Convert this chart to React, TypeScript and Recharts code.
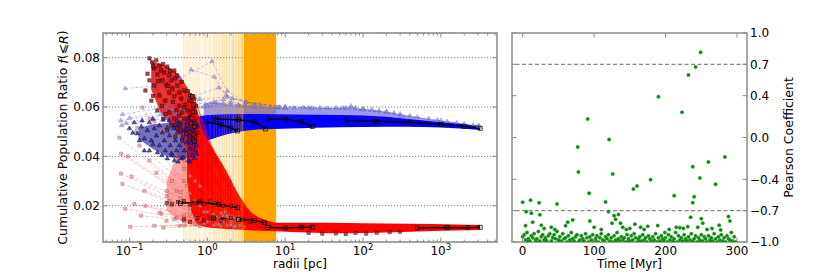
import React from 'react';
import { ComposedChart, Line, Area, Scatter, XAxis, YAxis, CartesianGrid, ReferenceLine, ReferenceArea } from 'recharts';

type Pt = [number, number];

const FONT = "'DejaVu Sans', sans-serif";
const SPINE = '#8c8c8c';
const FS = 12;

// ================= Left panel: cumulative population ratio vs radius =================
const radiusDomain: [number, number] = [0.0456, 5270];
const ratioDomain: [number, number] = [0.0053, 0.09];
const radiusMajorTicks = [0.1, 1, 10, 100, 1000];
const radiusMinorTicks = [0.05, 0.06, 0.07, 0.08, 0.09, 0.2, 0.3, 0.4, 0.5, 0.6, 0.7, 0.8, 0.9, 2, 3, 4, 5, 6, 7, 8, 9, 20, 30, 40, 50, 60, 70, 80, 90, 200, 300, 400, 500, 600, 700, 800, 900, 2000, 3000, 4000, 5000];
const ratioTicks = [0.02, 0.04, 0.06, 0.08];

// orange vertical markers (radii) and their strength
const orangeFaintRadii = [0.496, 0.542, 0.6, 0.661, 0.716, 0.789, 0.942, 1.083, 1.23, 1.32, 1.43, 1.55, 1.65, 1.77, 1.92, 2.08, 2.18, 2.34, 2.53, 2.71, 2.84];
const orangeFaintWeight = [0.14, 0.12, 0.14, 0.12, 0.14, 0.12, 0.16, 0.18, 0.2, 0.2, 0.24, 0.24, 0.28, 0.28, 0.32, 0.32, 0.36, 0.38, 0.42, 0.46, 0.5];
const orangeTint: Pt = [0.48, 2.95];
const orangeSolid: Pt = [2.95, 7.65];

// pale red tracks starting at small radii
const redFanTracks: Pt[][] = [
  [[0.074, 0.0476], [0.35, 0.03], [1.4, 0.015]],
  [[0.078, 0.0411], [0.4, 0.026], [1.2, 0.0165]],
  [[0.078, 0.033], [0.3, 0.024], [1.0, 0.0175]],
  [[0.081, 0.0289], [0.35, 0.021], [1.1, 0.014]],
  [[0.088, 0.0188], [0.4, 0.015], [1.3, 0.0125]],
  [[0.102, 0.0115], [0.5, 0.012], [1.5, 0.0118]],
  [[0.106, 0.0318], [0.45, 0.023], [1.6, 0.016]],
  [[0.146, 0.0598], [0.5, 0.035], [1.8, 0.0155]],
  [[0.185, 0.0553], [0.6, 0.032], [2.0, 0.014]],
  [[0.126, 0.0517], [0.5, 0.03], [1.7, 0.0175]],
  [[0.115, 0.0208], [0.5, 0.016], [1.4, 0.013]],
  [[0.272, 0.0111], [0.8, 0.0118], [2.2, 0.0115]],
  [[0.256, 0.0168], [0.7, 0.015], [2.0, 0.0128]],
  [[0.208, 0.0545], [0.7, 0.03], [2.2, 0.015]],
  [[0.256, 0.0505], [0.8, 0.028], [2.4, 0.0145]],
  [[0.221, 0.0334], [0.7, 0.022], [1.9, 0.015]],
  [[0.242, 0.0172], [0.8, 0.0145], [2.0, 0.0122]],
  [[0.297, 0.0139], [0.9, 0.0128], [2.3, 0.0118]],
  [[0.155, 0.0261], [0.6, 0.019], [1.6, 0.0135]],
  [[0.18, 0.0383], [0.6, 0.025], [1.8, 0.016]],
  [[0.134, 0.0444], [0.55, 0.028], [1.5, 0.017]],
  [[0.325, 0.022], [0.9, 0.0175], [2.4, 0.014]],
  [[0.377, 0.0147], [1.0, 0.0135], [2.6, 0.012]],
  [[0.437, 0.0119], [1.2, 0.012], [3.0, 0.0115]],
  [[0.506, 0.0383], [1.1, 0.022], [2.5, 0.015]],
  [[0.208, 0.0119], [0.7, 0.0125], [1.8, 0.012]],
  [[0.16, 0.02], [0.6, 0.0165], [1.5, 0.014]],
  [[0.3, 0.026], [0.8, 0.02], [2.0, 0.0155]],
  [[0.095, 0.04], [0.45, 0.0255], [1.3, 0.0155]],
  [[0.14, 0.016], [0.5, 0.014], [1.4, 0.0122]],
];

// dense red tracks falling from the high cluster
const redWedgeTracks: Pt[][] = [
  [[0.18, 0.0797], [0.7, 0.055], [2.4, 0.016]],
  [[0.242, 0.0768], [0.8, 0.05], [2.8, 0.015]],
  [[0.306, 0.0764], [0.9, 0.048], [3.0, 0.014]],
  [[0.377, 0.0748], [1.0, 0.045], [3.4, 0.0135]],
  [[0.506, 0.0667], [1.1, 0.04], [3.8, 0.013]],
  [[0.622, 0.0643], [1.3, 0.038], [4.2, 0.0128]],
  [[0.681, 0.0634], [1.5, 0.034], [4.6, 0.0125]],
  [[0.228, 0.0732], [0.75, 0.045], [2.2, 0.017]],
  [[0.297, 0.0691], [0.8, 0.042], [2.0, 0.018]],
  [[0.437, 0.0659], [0.9, 0.04], [2.6, 0.016]],
  [[0.553, 0.0586], [1.0, 0.035], [3.2, 0.0145]],
  [[0.722, 0.0521], [1.2, 0.03], [3.6, 0.0135]],
  [[0.412, 0.0513], [0.85, 0.03], [2.3, 0.016]],
  [[0.537, 0.0492], [1.0, 0.028], [2.8, 0.014]],
  [[0.325, 0.0578], [0.8, 0.034], [2.1, 0.0165]],
  [[0.208, 0.0687], [0.7, 0.04], [1.9, 0.0175]],
];

// pale blue tracks
const blueFanTracks: Pt[][] = [
  [[0.088, 0.0675], [0.2, 0.0685], [0.44, 0.0715], [1.15, 0.0785], [1.8, 0.0665], [3.1, 0.062], [8.4, 0.06], [60, 0.0598], [300, 0.0565], [3000, 0.0522]],
  [[0.617, 0.0751], [1.23, 0.0722], [1.74, 0.0647], [3.14, 0.062], [10, 0.06], [100, 0.059], [1000, 0.0545], [3100, 0.052]],
  [[0.081, 0.057], [0.3, 0.06], [0.6, 0.064], [1.4, 0.0678], [2.1, 0.0634], [4.66, 0.061], [20, 0.0598], [200, 0.058]],
  [[0.077, 0.0545], [0.25, 0.057], [0.7, 0.061], [1.6, 0.063], [3.0, 0.0605], [10, 0.0595]],
  [[0.079, 0.0525], [0.3, 0.0555], [0.9, 0.06], [2.5, 0.061], [8, 0.0598]],
  [[0.09, 0.0535], [0.4, 0.0575], [1.2, 0.062], [4, 0.06]],
  [[0.12, 0.05], [0.5, 0.0585], [1.0, 0.0605], [2.0, 0.062]],
  [[0.1, 0.0556], [0.35, 0.059], [0.8, 0.0632], [1.8, 0.064], [4, 0.061]],
];

// black reference tracks
const blackTracks: Pt[][] = [
  [[0.95, 0.054], [1.5, 0.0528], [2.0, 0.0515], [2.43, 0.0503]],
  [[1.3, 0.055], [2.5, 0.0548], [4.0, 0.054], [5.56, 0.0511]],
  [[6.0, 0.0552], [10, 0.055], [16, 0.054], [22.3, 0.0521]],
  [[60, 0.0545], [150, 0.0542], [400, 0.0538], [1000, 0.053], [2000, 0.0522], [3200, 0.0514]],
  [[0.45, 0.021], [0.8, 0.0215], [1.4, 0.0205], [2.43, 0.0192]],
  [[1.2, 0.015], [2.5, 0.0145], [4.0, 0.014], [5.4, 0.0131]],
  [[6.0, 0.0112], [10, 0.011], [16, 0.0113], [22.3, 0.0113]],
  [[500, 0.011], [1200, 0.0112], [2200, 0.0111], [3200, 0.0113]],
];

// filled envelopes
const redHazeR = [0.3, 0.4, 0.5, 0.6, 0.7, 0.8];
const redHazeLo = [0.018, 0.015, 0.013, 0.0125, 0.012, 0.0115];
const redHazeHi = [0.03, 0.04, 0.05, 0.058, 0.06, 0.055];

const redCoreR = [0.55, 0.62, 0.7, 0.79, 0.95, 1.16, 1.45, 1.75, 2.05, 2.36, 2.75, 3.17, 3.8, 4.66, 6.0, 7.7, 12, 20, 35, 60, 100, 200, 400, 800, 1500, 3200];
const redCoreLo = [0.03, 0.018, 0.0135, 0.012, 0.0114, 0.011, 0.0108, 0.0106, 0.0105, 0.0104, 0.0103, 0.0102, 0.01, 0.0099, 0.0098, 0.0097, 0.0094, 0.0091, 0.0088, 0.0088, 0.0089, 0.0092, 0.0095, 0.0098, 0.01, 0.0102];
const redCoreHi = [0.06, 0.064, 0.061, 0.054, 0.048, 0.0435, 0.0385, 0.0342, 0.03, 0.0261, 0.0222, 0.0192, 0.0168, 0.0151, 0.0138, 0.0131, 0.0131, 0.0131, 0.0131, 0.013, 0.0129, 0.0128, 0.0127, 0.0126, 0.0124, 0.0122];

const blueBandR = [0.62, 0.75, 0.9, 1.1, 1.4, 1.8, 2.4, 3.2, 4.5, 7, 12, 25, 50, 100, 200, 350, 600, 1000, 2000, 3200];
const blueBandLo = [0.044, 0.0448, 0.0458, 0.0468, 0.048, 0.049, 0.0498, 0.0505, 0.0509, 0.0511, 0.0513, 0.0516, 0.0518, 0.0519, 0.052, 0.052, 0.0519, 0.0517, 0.0512, 0.0507];
const blueBandHi = [0.0555, 0.0562, 0.0566, 0.0568, 0.057, 0.0571, 0.0572, 0.0572, 0.0572, 0.0571, 0.057, 0.0569, 0.0568, 0.0566, 0.0561, 0.0552, 0.0545, 0.0538, 0.053, 0.0524];

const blueUpperR = [0.9, 1.2, 1.6, 2.2, 3.2, 5, 8, 15, 30, 55, 70, 85, 130, 220, 350, 600, 1000, 2000];
const blueUpperLo = [0.056, 0.0562, 0.0564, 0.0565, 0.0566, 0.0566, 0.0566, 0.0565, 0.0564, 0.0563, 0.0563, 0.0562, 0.0559, 0.0553, 0.0545, 0.0538, 0.0532, 0.0525];
const blueUpperHi = [0.0615, 0.062, 0.0614, 0.0608, 0.0604, 0.0601, 0.0599, 0.0597, 0.0596, 0.0596, 0.0603, 0.0595, 0.059, 0.058, 0.0568, 0.0555, 0.0545, 0.0532];

const blueClusterR = [0.13, 0.2, 0.3, 0.45, 0.6, 0.72];
const blueClusterLo = [0.047, 0.043, 0.04, 0.039, 0.0395, 0.041];
const blueClusterHi = [0.0515, 0.053, 0.0535, 0.054, 0.0545, 0.055];

const redClusterR = [0.19, 0.25, 0.35, 0.45, 0.55, 0.65, 0.72];
const redClusterLo = [0.067, 0.058, 0.052, 0.049, 0.047, 0.046, 0.048];
const redClusterHi = [0.0785, 0.0775, 0.0755, 0.0725, 0.068, 0.064, 0.059];

// markers
const redClusterPts: Pt[] = [
  [0.18, 0.0797], [0.196, 0.0781], [0.221, 0.0789], [0.242, 0.0768], [0.208, 0.0756], [0.256, 0.0748], [0.228, 0.0732], [0.28, 0.074],
  [0.306, 0.0764], [0.325, 0.0728], [0.264, 0.0708], [0.297, 0.0691], [0.344, 0.0708], [0.377, 0.0748], [0.388, 0.0716], [0.355, 0.0675],
  [0.412, 0.0687], [0.437, 0.0659], [0.325, 0.0659], [0.377, 0.0643], [0.463, 0.0634], [0.506, 0.0667], [0.521, 0.061], [0.437, 0.0606],
  [0.4, 0.0586], [0.477, 0.0578], [0.553, 0.0586], [0.587, 0.0626], [0.622, 0.0643], [0.681, 0.0634], [0.661, 0.0602], [0.604, 0.0561],
  [0.701, 0.0578], [0.681, 0.0545], [0.722, 0.0521], [0.641, 0.0505], [0.553, 0.0529], [0.506, 0.0553], [0.45, 0.0537], [0.412, 0.0513],
  [0.537, 0.0492], [0.477, 0.0464], [0.377, 0.0553], [0.325, 0.0578], [0.344, 0.0525], [0.288, 0.0626], [0.242, 0.0647], [0.208, 0.0687],
  [0.18, 0.0708], [0.16, 0.0667], [0.191, 0.0626], [0.228, 0.0586], [0.272, 0.0553], [0.306, 0.0505], [0.388, 0.048], [0.587, 0.0464],
  [0.661, 0.0472], [0.744, 0.0496], [0.701, 0.048],
  [0.2, 0.0765], [0.27, 0.0775], [0.33, 0.0745], [0.41, 0.0728], [0.47, 0.0702], [0.56, 0.0665], [0.6, 0.0648], [0.17, 0.0735],
  [0.235, 0.0705], [0.31, 0.0685], [0.36, 0.062], [0.43, 0.0565], [0.5, 0.0598], [0.58, 0.0512], [0.26, 0.0605], [0.2, 0.0645],
  [0.45, 0.0505], [0.62, 0.0535], [0.72, 0.0605], [0.29, 0.0572],
];
const redEdgedPts: Pt[] = [[0.641, 0.0643], [0.661, 0.061], [0.65, 0.058], [0.67, 0.055], [0.68, 0.052], [0.66, 0.049], [0.69, 0.046], [0.63, 0.0555]];
const redRowPts: Pt[] = [
  [0.3, 0.021], [0.35, 0.0205], [0.42, 0.0215], [0.5, 0.022], [0.6, 0.0205], [0.7, 0.0212], [0.9, 0.0208], [1.1, 0.0218], [1.3, 0.021], [1.6, 0.02], [2.0, 0.0198],
  [0.5, 0.0145], [0.6, 0.0135], [0.75, 0.015], [0.9, 0.014], [1.1, 0.0148], [1.5, 0.0138], [2.0, 0.015], [2.8, 0.0142], [3.5, 0.0136],
  [20, 0.009], [30, 0.0087], [45, 0.0088], [60, 0.0085], [80, 0.009], [110, 0.0087], [150, 0.0091], [220, 0.0093], [300, 0.0095],
];
const blueClusterPts: Pt[] = [
  [0.0995, 0.0513], [0.115, 0.0537], [0.126, 0.0492], [0.142, 0.0521], [0.155, 0.0472], [0.169, 0.0505], [0.18, 0.0537], [0.191, 0.0464],
  [0.208, 0.0513], [0.221, 0.0484], [0.242, 0.0525], [0.242, 0.0444], [0.264, 0.0496], [0.28, 0.0464], [0.288, 0.0423], [0.306, 0.0517],
  [0.325, 0.0484], [0.334, 0.0444], [0.355, 0.0403], [0.366, 0.0513], [0.388, 0.0464], [0.4, 0.0423], [0.412, 0.0496], [0.437, 0.0525],
  [0.437, 0.0444], [0.463, 0.0391], [0.477, 0.0476], [0.506, 0.0505], [0.506, 0.0423], [0.537, 0.0456], [0.553, 0.0537], [0.57, 0.0383],
  [0.587, 0.0484], [0.604, 0.0431], [0.622, 0.0513], [0.641, 0.0403], [0.661, 0.0464], [0.681, 0.0496], [0.701, 0.0423], [0.722, 0.0444],
  [0.744, 0.0525], [0.377, 0.0383], [0.306, 0.0391], [0.228, 0.0415], [0.18, 0.0423], [0.134, 0.0464], [0.155, 0.0423], [0.553, 0.0553],
  [0.412, 0.0545], [0.325, 0.0545],
  [0.11, 0.0495], [0.145, 0.0545], [0.2, 0.0552], [0.27, 0.0548], [0.345, 0.0412], [0.42, 0.0378], [0.49, 0.0395], [0.6, 0.0377],
  [0.68, 0.0392], [0.73, 0.041], [0.26, 0.0404], [0.2, 0.0448], [0.53, 0.051], [0.62, 0.0455], [0.7, 0.0535], [0.39, 0.0528],
];
const blueUpperPts: Pt[] = [
  [1.3, 0.062], [1.6, 0.0615], [2, 0.061], [2.5, 0.0605], [3, 0.0608], [4, 0.0603], [5, 0.0601], [6.5, 0.06], [8, 0.0598], [10, 0.0599],
  [13, 0.0597], [17, 0.0598], [22, 0.0596], [28, 0.0597], [35, 0.0595], [45, 0.0597], [55, 0.0596], [70, 0.0605], [80, 0.0598], [100, 0.0592],
  [130, 0.059], [160, 0.0586], [200, 0.0582], [250, 0.0577], [300, 0.0572], [400, 0.0565], [500, 0.056], [700, 0.0553], [900, 0.0548],
  [1200, 0.0542], [1600, 0.0537], [2000, 0.0533], [2600, 0.0528], [3100, 0.0524],
];

// ================= Right panel: Pearson coefficient vs time =================
const timeDomain: [number, number] = [-14.95, 313.95];
const timeTicks = [0, 100, 200, 300];
const pearsonTicks = [-1, -0.7, -0.4, 0, 0.4, 0.7, 1];
const pearsonThresholds = [0.7, -0.7];
// low-correlation snapshots, one every 2 Myr
const pearsonBaseTimes = [
  0, 2, 4, 6, 8, 10, 12, 14, 16, 18, 20, 22, 24, 26, 28, 30, 32, 34, 36, 38, 40, 42, 44, 46, 48, 50, 52, 54, 56, 58,
  60, 62, 64, 66, 68, 70, 72, 74, 76, 78, 80, 82, 84, 86, 88, 90, 92, 94, 96, 98, 100, 102, 104, 106, 108, 110, 112, 114, 116, 118,
  120, 122, 124, 126, 128, 130, 132, 134, 136, 138, 140, 142, 144, 146, 148, 150, 152, 154, 156, 158, 160, 162, 164, 166, 168, 170, 172, 174, 176, 178,
  180, 182, 184, 186, 188, 190, 192, 194, 196, 198, 200, 202, 204, 206, 208, 210, 212, 214, 216, 218, 220, 222, 224, 226, 228, 230, 232, 234, 236, 238,
  240, 242, 244, 246, 248, 250, 252, 254, 256, 258, 260, 262, 264, 266, 268, 270, 272, 274, 276, 278, 280, 282, 284, 286, 288, 290, 292, 294, 296, 298,
];
const pearsonBase = [
  -0.95, -0.93, -0.98, -0.91, -0.97, -0.99, -0.94, -0.96, -0.92, -0.98,
  -0.97, -0.9, -0.99, -0.95, -0.93, -0.98, -0.96, -1.0, -0.94, -0.92,
  -0.99, -0.96, -0.93, -0.97, -0.9, -0.98, -0.95, -0.99, -0.92, -0.97,
  -0.96, -1.0, -0.94, -0.98, -0.91, -0.97, -0.99, -0.95, -0.93, -1.0,
  -0.98, -0.94, -0.97, -0.99, -0.92, -0.96, -1.0, -0.95, -0.98, -0.93,
  -0.99, -0.97, -0.94, -1.0, -0.96, -0.92, -0.98, -0.99, -0.95, -0.97,
  -0.93, -0.99, -0.96, -1.0, -0.94, -0.98, -0.91, -0.97, -0.99, -0.95,
  -0.98, -0.96, -1.0, -0.93, -0.97, -0.99, -0.94, -0.98, -0.92, -0.96,
  -1.0, -0.97, -0.95, -0.99, -0.93, -0.98, -0.96, -1.0, -0.94, -0.97,
  -0.99, -0.95, -0.98, -0.92, -1.0, -0.96, -0.99, -0.94, -0.97, -0.98,
  -0.96, -1.0, -0.93, -0.98, -0.95, -0.99, -0.97, -0.91, -1.0, -0.94,
  -0.98, -0.96, -0.99, -0.93, -0.97, -1.0, -0.95, -0.98, -0.92, -0.99,
  -0.97, -0.94, -1.0, -0.96, -0.98, -0.93, -0.99, -0.95, -0.97, -1.0,
  -0.94, -0.98, -0.96, -0.99, -0.92, -0.97, -1.0, -0.95, -0.98, -0.93,
  -0.99, -0.96, -1.0, -0.94, -0.97, -0.98, -0.91, -0.99, -0.95, -1.0,
];
const pearsonNotable: Pt[] = [
  [0, -0.62], [5, -0.71], [11, -0.6], [12, -0.725], [14, -0.81], [23, -0.625], [24, -0.74], [48, -0.637], [63, -0.81], [70, -0.79],
  [77, -0.09], [78, -0.33], [91, 0.177], [93, -0.534], [94, -0.8], [116, -0.617], [120, -0.71], [121, -0.018], [126, -0.35], [125, -0.82],
  [128, -0.748], [130, -0.783], [134, -0.738], [137, -0.82], [155, -0.493], [157, -0.83], [160, -0.464], [179, -0.404], [189, -0.843],
  [190, 0.39], [212, -0.557], [220, -0.863], [223, 0.241], [231, -0.853], [232, 0.598], [235, -0.764], [238, -0.28], [238, -0.624],
  [240, -0.567], [242, 0.675], [248, -0.388], [249, 0.815], [250, -0.777], [252, -0.82], [260, -0.235], [270, -0.448], [277, -0.885],
  [283, -0.187], [288, -0.757], [290, -0.8],
  [4, -0.844], [26, -0.84], [60, -0.844], [30, -0.87], [40, -0.86], [45, -0.88], [100, -0.86], [110, -0.88], [140, -0.86], [145, -0.88],
  [150, -0.87], [165, -0.86], [170, -0.88], [175, -0.85], [199, -0.91], [205, -0.88], [215, -0.86], [225, -0.87], [245, -0.86], [258, -0.88],
  [265, -0.87], [275, -0.84],
  [7, -0.99], [19, -1.0], [33, -0.985], [51, -0.995], [67, -1.0], [85, -0.99], [103, -1.0], [131, -0.99], [147, -1.0], [163, -0.995],
  [181, -1.0], [197, -0.99], [211, -1.0], [229, -0.985], [247, -1.0], [263, -0.99], [279, -1.0], [293, -0.995],
];

// ================= helpers =================
const pts = (a: Pt[]) => a.map(([r, v]) => ({ r, v }));
const band = (r: number[], lo: number[], hi: number[]) => r.map((x, i) => ({ r: x, range: [lo[i], hi[i]] }));
const vline = (r: number) => [{ r, v: ratioDomain[0] }, { r, v: ratioDomain[1] }];

const LP = { left: 103, right: 497, top: 33, bottom: 242 };
const RP = { left: 12, right: 247, top: 33, bottom: 242 };

const sqDot = (size: number, fill: string, stroke: string, opacity: number) => (p: any) => {
  const { cx, cy, index } = p;
  if (cx == null || cy == null) return <g key={`e${index}`} />;
  return <rect key={`s${index}`} x={cx - size / 2} y={cy - size / 2} width={size} height={size} fill={fill} stroke={stroke} strokeWidth={0.7} opacity={opacity} />;
};
const triPath = (cx: number, cy: number, s: number) => `M${cx},${cy - s}L${cx + s * 0.87},${cy + s * 0.5}L${cx - s * 0.87},${cy + s * 0.5}Z`;
const triDot = (size: number, fill: string, stroke: string, opacity: number) => (p: any) => {
  const { cx, cy, index } = p;
  if (cx == null || cy == null) return <g key={`e${index}`} />;
  return <path key={`t${index}`} d={triPath(cx, cy, size)} fill={fill} stroke={stroke} strokeWidth={0.6} opacity={opacity} />;
};

const RadiusTick = (p: any) => {
  const { x, payload } = p;
  const v = payload.value;
  const major = radiusMajorTicks.includes(v);
  const len = major ? 4.5 : 2.5;
  const exp = Math.round(Math.log10(v));
  return (
    <g>
      <line x1={x} x2={x} y1={LP.bottom} y2={LP.bottom - len} stroke={SPINE} strokeWidth={1} />
      <line x1={x} x2={x} y1={LP.top} y2={LP.top + len} stroke={SPINE} strokeWidth={1} />
      {major ? (
        <text x={x} y={LP.bottom + 13} textAnchor="middle" fontSize={FS} fontFamily={FONT} fill="#000">
          10<tspan dy={-5} fontSize={8.5}>{exp < 0 ? `\u2212${-exp}` : `${exp}`}</tspan>
        </text>
      ) : null}
    </g>
  );
};

const RatioTick = (p: any) => {
  const { y, payload } = p;
  return (
    <g>
      <line x1={LP.left} x2={LP.left + 4.5} y1={y} y2={y} stroke={SPINE} strokeWidth={1} />
      <line x1={LP.right} x2={LP.right - 4.5} y1={y} y2={y} stroke={SPINE} strokeWidth={1} />
      <text x={LP.left - 3} y={y + 4.4} textAnchor="end" fontSize={FS} fontFamily={FONT} fill="#000">{payload.value.toFixed(2)}</text>
    </g>
  );
};

const TimeTick = (p: any) => {
  const { x, payload } = p;
  return (
    <g>
      <line x1={x} x2={x} y1={RP.bottom} y2={RP.bottom - 4.5} stroke={SPINE} strokeWidth={1} />
      <line x1={x} x2={x} y1={RP.top} y2={RP.top + 4.5} stroke={SPINE} strokeWidth={1} />
      <text x={x} y={RP.bottom + 13} textAnchor="middle" fontSize={FS} fontFamily={FONT} fill="#000">{payload.value}</text>
    </g>
  );
};

const PearsonTick = (p: any) => {
  const { y, payload } = p;
  const v: number = payload.value;
  const s = v < 0 ? `\u2212${(-v).toFixed(1)}` : v.toFixed(1);
  return (
    <g>
      <line x1={RP.left} x2={RP.left + 4.5} y1={y} y2={y} stroke={SPINE} strokeWidth={1} />
      <line x1={RP.right} x2={RP.right - 4.5} y1={y} y2={y} stroke={SPINE} strokeWidth={1} />
      <text x={RP.right + 3} y={y + 4.4} textAnchor="start" fontSize={FS} fontFamily={FONT} fill="#000">{s}</text>
    </g>
  );
};

const Caption = (p: any) => (
  <text x={p.posX} y={268} textAnchor="middle" fontSize={FS} fontFamily={FONT} fill="#000">{p.caption}</text>
);
const LeftYLabel = () => (
  <text transform="translate(62.5,137.5) rotate(-90)" textAnchor="middle" dominantBaseline="central" fontSize={12.5} fontFamily={FONT} fill="#000">
    {'Cumulative Population Ratio '}
    <tspan fontStyle="italic">f</tspan>
    {'(\u2A7D'}
    <tspan fontStyle="italic">R</tspan>
    {')'}
  </text>
);
const RightYLabel = () => (
  <text transform="translate(288,137.5) rotate(-90)" textAnchor="middle" dominantBaseline="central" fontSize={12.5} fontFamily={FONT} fill="#000">
    Pearson Coefficient
  </text>
);

const greenDot = (p: any) => <circle cx={p.cx} cy={p.cy} r={1.75} fill="#0b880b" stroke="#3aa53a" strokeWidth={0.4} />;
const redSq = (size: number, fill: string, stroke: string, op: number) => (p: any) => (
  <rect x={p.cx - size / 2} y={p.cy - size / 2} width={size} height={size} fill={fill} stroke={stroke} strokeWidth={0.7} opacity={op} />
);
const blueTri = (size: number, fill: string, stroke: string, op: number) => (p: any) => (
  <path d={triPath(p.cx, p.cy, size)} fill={fill} stroke={stroke} strokeWidth={0.5} opacity={op} />
);

function LeftPanel() {
  return (
    <ComposedChart width={500} height={277} margin={{ top: 33, right: 3, bottom: 0, left: 43 }}>
      <XAxis type="number" dataKey="r" scale="log" domain={radiusDomain} allowDataOverflow
        ticks={[...radiusMajorTicks, ...radiusMinorTicks]} interval={0} tick={RadiusTick}
        tickLine={false} axisLine={false} tickSize={0} height={35}
        label={<Caption posX={300} caption="radii [pc]" />} />
      <YAxis type="number" dataKey="v" domain={ratioDomain} allowDataOverflow ticks={ratioTicks} interval={0}
        tick={RatioTick} tickLine={false} axisLine={false} tickSize={0} width={60} label={<LeftYLabel />} />

      <Area data={band([orangeTint[0], orangeTint[1]], [ratioDomain[0], ratioDomain[0]], [ratioDomain[1], ratioDomain[1]])}
        dataKey="range" type="linear" stroke="none" fill="#FFA500" fillOpacity={0.1} isAnimationActive={false} />
      <Area data={band([orangeSolid[0], orangeSolid[1]], [ratioDomain[0], ratioDomain[0]], [ratioDomain[1], ratioDomain[1]])}
        dataKey="range" type="linear" stroke="none" fill="#FFA500" fillOpacity={1} isAnimationActive={false} />
      {orangeFaintRadii.map((r, i) => (
        <Line key={`of${i}`} data={vline(r)} dataKey="v" type="linear" stroke="#FFA500" strokeOpacity={orangeFaintWeight[i]}
          strokeWidth={1.3} dot={false} activeDot={false} isAnimationActive={false} />
      ))}
      <CartesianGrid vertical={false} stroke="#555" strokeDasharray="1.2 1.8" strokeWidth={0.8} />

      {blueFanTracks.map((tr, i) => (
        <Line key={`bf${i}`} data={pts(tr)} dataKey="v" type="linear" stroke="#4a4aff" strokeOpacity={0.35} strokeWidth={1}
          strokeDasharray="3 2" dot={triDot(2.6, '#8c8cf0', '#5a5a90', 0.6)} activeDot={false} isAnimationActive={false} />
      ))}
      {redFanTracks.map((tr, i) => (
        <Line key={`rf${i}`} data={pts(tr)} dataKey="v" type="linear" stroke="#ff2a2a" strokeOpacity={0.3} strokeWidth={1}
          strokeDasharray="3 2" dot={sqDot(3, '#e48a8a', '#a05050', 0.6)} activeDot={false} isAnimationActive={false} />
      ))}

      <Area data={band(blueUpperR, blueUpperLo, blueUpperHi)} dataKey="range" type="linear" stroke="none" fill="#7272dc" fillOpacity={0.7} isAnimationActive={false} />
      <Area data={band(blueBandR, blueBandLo, blueBandHi)} dataKey="range" type="linear" stroke="none" fill="#0000ff" fillOpacity={1} isAnimationActive={false} />
      <Area data={band(redHazeR, redHazeLo, redHazeHi)} dataKey="range" type="linear" stroke="none" fill="#ff0000" fillOpacity={0.35} isAnimationActive={false} />
      <Area data={band(redCoreR, redCoreLo, redCoreHi)} dataKey="range" type="linear" stroke="none" fill="#ff0000" fillOpacity={1} isAnimationActive={false} />
      <Area data={band(redClusterR, redClusterLo, redClusterHi)} dataKey="range" type="linear" stroke="none" fill="#e00000" fillOpacity={0.8} isAnimationActive={false} />
      {redWedgeTracks.map((tr, i) => (
        <Line key={`rw${i}`} data={pts(tr)} dataKey="v" type="linear" stroke="#ff0000" strokeOpacity={0.7} strokeWidth={1}
          dot={false} activeDot={false} isAnimationActive={false} />
      ))}
      <Area data={band(blueClusterR, blueClusterLo, blueClusterHi)} dataKey="range" type="linear" stroke="none" fill="#14148c" fillOpacity={0.6} isAnimationActive={false} />

      <Scatter data={pts(redRowPts)} shape={redSq(3.2, '#b02020', '#3a0000', 0.75)} isAnimationActive={false} />
      <Scatter data={pts(redClusterPts)} shape={redSq(3.2, '#a81414', '#300000', 0.8)} isAnimationActive={false} />
      <Scatter data={pts(redEdgedPts)} shape={redSq(3.8, '#d01010', '#000000', 1)} isAnimationActive={false} />
      <Scatter data={pts(blueClusterPts)} shape={blueTri(2.6, '#2a2ab8', '#000030', 0.85)} isAnimationActive={false} />
      <Scatter data={pts(blueUpperPts)} shape={blueTri(2.4, '#8a8ae6', '#606080', 0.7)} isAnimationActive={false} />

      {blackTracks.map((tr, i) => (
        <Line key={`k${i}`} data={pts(tr)} dataKey="v" type="linear" stroke="#000" strokeWidth={1.5}
          dot={sqDot(4, 'none', '#000', 1)} activeDot={false} isAnimationActive={false} />
      ))}

      <ReferenceArea x1={radiusDomain[0]} x2={radiusDomain[1]} y1={ratioDomain[0]} y2={ratioDomain[1]} ifOverflow="visible"
        fill="none" fillOpacity={0} stroke={SPINE} strokeWidth={1.5} />
    </ComposedChart>
  );
}

function RightPanel() {
  const base = pearsonBase.map((p, i) => ({ t: pearsonBaseTimes[i], p }));
  const notable = pearsonNotable.map(([t, p]) => ({ t, p }));
  return (
    <ComposedChart width={330} height={277} margin={{ top: 33, right: 23, bottom: 0, left: 12 }}>
      <XAxis type="number" dataKey="t" domain={timeDomain} allowDataOverflow ticks={timeTicks} interval={0}
        tick={TimeTick} tickLine={false} axisLine={false} tickSize={0} height={35}
        label={<Caption posX={129.5} caption="Time [Myr]" />} />
      <YAxis type="number" dataKey="p" orientation="right" domain={[-1, 1]} allowDataOverflow ticks={pearsonTicks} interval={0}
        tick={PearsonTick} tickLine={false} axisLine={false} tickSize={0} width={60} label={<RightYLabel />} />
      {pearsonThresholds.map((y) => (
        <ReferenceLine key={`th${y}`} y={y} stroke="#888" strokeDasharray="4 2.5" strokeWidth={1.1} />
      ))}
      <Scatter data={base} shape={greenDot} isAnimationActive={false} />
      <Scatter data={notable} shape={greenDot} isAnimationActive={false} />
      <ReferenceArea x1={timeDomain[0]} x2={timeDomain[1]} y1={-1} y2={1} ifOverflow="visible"
        fill="none" fillOpacity={0} stroke={SPINE} strokeWidth={1.5} />
    </ComposedChart>
  );
}

export default function App() {
  return (
    <div style={{ position: 'absolute', left: 0, top: 0, width: 830, height: 277, background: '#fff', fontFamily: FONT }}>
      <div style={{ position: 'absolute', left: 0, top: 0 }}>
        <LeftPanel />
      </div>
      <div style={{ position: 'absolute', left: 500, top: 0 }}>
        <RightPanel />
      </div>
    </div>
  );
}
